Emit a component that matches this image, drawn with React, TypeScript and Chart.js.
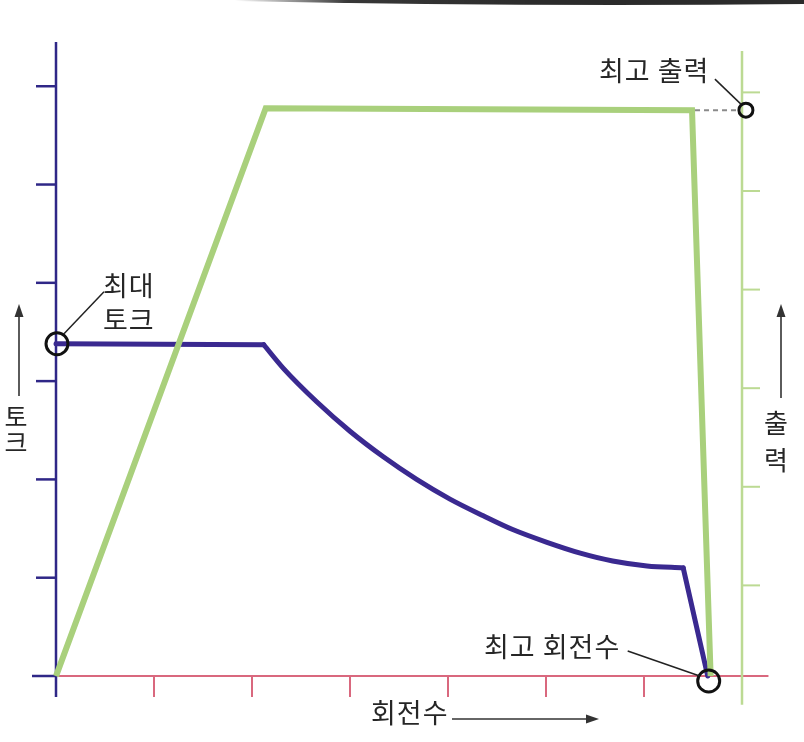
import React, { useEffect, useRef } from "react";
import { Chart, registerables } from "chart.js";

Chart.register(...registerables);

// axis tick values
const rpmTicks = [1, 2, 3, 4, 5, 6];
const torqueTicks = [0, 1, 2, 3, 4, 5, 6];
const powerTicks = [1, 2, 3, 4, 5, 6];

// power curve (출력)
const powerRpm = [0, 2.14, 6.49, 6.68];
const powerValues = [0.08, 5.84, 5.82, 0.08];

// torque curve (토크): flat part, falling curve, final drop
const torqueRpm = [0, 2.12, 2.32, 2.66, 3.0, 3.34, 3.68, 4.02, 4.36, 4.66, 5.01, 5.35, 5.68, 6.03, 6.4, 6.65];
const torqueValues = [3.38, 3.37, 3.13, 2.79, 2.49, 2.23, 2.0, 1.8, 1.63, 1.49, 1.36, 1.25, 1.17, 1.12, 1.1, 0];
const curveStart = 1; // index where the curve begins
const curveEnd = 14; // index where the steep drop begins

// texts
const maxTorqueLabel = ["최대", "토크"];
const maxPowerLabel = "최고 출력";
const maxRpmLabel = "최고 회전수";
const torqueAxisLabel = ["토", "크"];
const powerAxisLabel = ["출", "력"];
const rpmAxisLabel = "회전수";

const NAVY = "#2f2787";
const NAVY_LINE = "#3a2990";
const PINK = "#d9687e";
const GREEN = "#a9d07c";
const GREEN_AXIS = "#bcda93";
const TEXT = "#262626";
const FONT = '"Noto Sans CJK KR", "Noto Sans", sans-serif';

function arrow(ctx: CanvasRenderingContext2D, x1: number, y1: number, x2: number, y2: number) {
  const ang = Math.atan2(y2 - y1, x2 - x1);
  const hl = 13, hw = 4.5;
  ctx.save();
  ctx.strokeStyle = "#333";
  ctx.fillStyle = "#333";
  ctx.lineWidth = 1.6;
  ctx.beginPath();
  ctx.moveTo(x1, y1);
  ctx.lineTo(x2 - Math.cos(ang) * hl * 0.8, y2 - Math.sin(ang) * hl * 0.8);
  ctx.stroke();
  ctx.beginPath();
  ctx.moveTo(x2, y2);
  ctx.lineTo(x2 - Math.cos(ang) * hl - Math.sin(ang) * hw, y2 - Math.sin(ang) * hl + Math.cos(ang) * hw);
  ctx.lineTo(x2 - Math.cos(ang) * hl + Math.sin(ang) * hw, y2 - Math.sin(ang) * hl - Math.cos(ang) * hw);
  ctx.closePath();
  ctx.fill();
  ctx.restore();
}

function line(ctx: CanvasRenderingContext2D, x1: number, y1: number, x2: number, y2: number, color: string, w: number) {
  ctx.save();
  ctx.strokeStyle = color;
  ctx.lineWidth = w;
  ctx.beginPath();
  ctx.moveTo(x1, y1);
  ctx.lineTo(x2, y2);
  ctx.stroke();
  ctx.restore();
}

function circle(ctx: CanvasRenderingContext2D, x: number, y: number, r: number) {
  ctx.save();
  ctx.strokeStyle = "#111";
  ctx.lineWidth = 3;
  ctx.beginPath();
  ctx.arc(x, y, r, 0, Math.PI * 2);
  ctx.stroke();
  ctx.restore();
}

const axesPlugin = {
  id: "customAxes",
  beforeDatasetsDraw(chart: any) {
    const ctx: CanvasRenderingContext2D = chart.ctx;
    const xs = chart.scales.x, ys = chart.scales.y, y1 = chart.scales.y1;
    const x0 = xs.getPixelForValue(0);
    const yZero = ys.getPixelForValue(0);
    const xR = xs.getPixelForValue(7);

    // scan edge smudge at top
    ctx.save();
    const g = ctx.createLinearGradient(235, 0, 804, 0);
    g.addColorStop(0, "rgba(0,0,0,0)");
    g.addColorStop(0.2, "rgba(20,20,20,0.85)");
    g.addColorStop(0.55, "rgba(20,20,20,0.9)");
    g.addColorStop(1, "rgba(20,20,20,0.9)");
    ctx.fillStyle = g;
    ctx.beginPath();
    ctx.moveTo(235, 0);
    ctx.lineTo(804, 0);
    ctx.lineTo(804, 4);
    ctx.quadraticCurveTo(520, 7, 235, 1);
    ctx.closePath();
    ctx.fill();
    ctx.restore();

    // x axis
    line(ctx, x0, yZero, xs.getPixelForValue(7.27), yZero, PINK, 2);
    rpmTicks.forEach((v) => {
      const px = xs.getPixelForValue(v);
      line(ctx, px, yZero, px, yZero + 21, PINK, 2);
    });

    // right (power) axis
    line(ctx, xR, y1.getPixelForValue(6.42), xR, y1.getPixelForValue(-0.21), GREEN_AXIS, 2.5);
    powerTicks.forEach((v) => {
      const py = y1.getPixelForValue(v);
      line(ctx, xR, py, xR + 18, py, GREEN_AXIS, 2);
    });

    // left (torque) axis
    line(ctx, x0, ys.getPixelForValue(6.45), x0, yZero + 21, NAVY, 2.5);
    torqueTicks.forEach((v) => {
      const py = ys.getPixelForValue(v);
      line(ctx, x0 - (v === 0 ? 24 : 20), py, x0, py, NAVY, 2.5);
    });
  },
  afterDatasetsDraw(chart: any) {
    const ctx: CanvasRenderingContext2D = chart.ctx;
    const xs = chart.scales.x, ys = chart.scales.y, y1 = chart.scales.y1;
    const x0 = xs.getPixelForValue(0);

    // max torque
    const tx = x0 + 1;
    const ty = ys.getPixelForValue(torqueValues[0]);
    circle(ctx, tx, ty, 11);
    line(ctx, tx + 7, ty - 10, tx + 47, ty - 52, "#222", 1.5);

    // max power
    const cornerX = xs.getPixelForValue(powerRpm[2]);
    const cornerY = y1.getPixelForValue(powerValues[2]);
    const pcx = xs.getPixelForValue(7.04);
    ctx.save();
    ctx.strokeStyle = "#8a8a8a";
    ctx.lineWidth = 2;
    ctx.setLineDash([5, 4]);
    ctx.beginPath();
    ctx.moveTo(cornerX + 3, cornerY);
    ctx.lineTo(pcx - 7, cornerY);
    ctx.stroke();
    ctx.restore();
    circle(ctx, pcx, cornerY, 7);
    line(ctx, pcx - 31, cornerY - 31, pcx - 5, cornerY - 6, "#222", 1.5);

    // max rpm
    const rx = xs.getPixelForValue(torqueRpm[torqueRpm.length - 1]) + 1;
    const ry = ys.getPixelForValue(0) + 5;
    circle(ctx, rx, ry, 11);
    line(ctx, rx - 81, ry - 30, rx - 9, ry - 5, "#222", 1.5);

    // texts
    ctx.save();
    ctx.fillStyle = TEXT;
    ctx.textBaseline = "middle";
    (ctx as any).letterSpacing = "1px";
    ctx.font = `27px ${FONT}`;
    ctx.textAlign = "left";
    ctx.fillText(maxTorqueLabel[0], tx + 46, ty - 58);
    ctx.fillText(maxTorqueLabel[1], tx + 46, ty - 24);
    ctx.fillText(maxPowerLabel, 599, 71);
    ctx.fillText(maxRpmLabel, 484, 647);
    ctx.fillText(rpmAxisLabel, 371, 713);
    (ctx as any).letterSpacing = "0px";
    ctx.textAlign = "center";
    ctx.font = `25px ${FONT}`;
    ctx.fillText(torqueAxisLabel[0], 16, 416);
    ctx.fillText(torqueAxisLabel[1], 16, 442);
    ctx.font = `26px ${FONT}`;
    ctx.fillText(powerAxisLabel[0], 776, 423);
    ctx.fillText(powerAxisLabel[1], 776, 460);
    ctx.restore();

    arrow(ctx, 19, 396, 19, 304);
    arrow(ctx, 781, 398, 781, 304);
    arrow(ctx, 452, 719, 599, 719);
  },
};

function pts(from: number, to: number) {
  const out: { x: number; y: number }[] = [];
  for (let i = from; i <= to; i++) out.push({ x: torqueRpm[i], y: torqueValues[i] });
  return out;
}

export default function App() {
  const ref = useRef<HTMLCanvasElement | null>(null);

  useEffect(() => {
    document.body.style.margin = "0";
    document.body.style.background = "#fff";
    const canvas = ref.current;
    if (!canvas) return;
    const torqueStyle = {
      yAxisID: "y",
      borderColor: NAVY_LINE,
      borderWidth: 5,
      pointRadius: 0,
      borderJoinStyle: "round",
      borderCapStyle: "round",
      clip: false,
    };
    const chart = new Chart(canvas, {
      type: "line",
      data: {
        datasets: [
          {
            label: "출력",
            data: powerRpm.map((x, i) => ({ x, y: powerValues[i] })),
            yAxisID: "y1",
            borderColor: GREEN,
            borderWidth: 6,
            pointRadius: 0,
            tension: 0,
            borderJoinStyle: "miter",
            clip: false,
          } as any,
          { label: "토크", data: pts(0, curveStart), tension: 0, ...torqueStyle } as any,
          { label: "토크 곡선", data: pts(curveStart, curveEnd), cubicInterpolationMode: "monotone", ...torqueStyle } as any,
          { label: "토크 하강", data: pts(curveEnd, torqueRpm.length - 1), tension: 0, ...torqueStyle } as any,
        ],
      },
      options: {
        responsive: false,
        animation: false,
        events: [],
        layout: { padding: { left: 56, right: 62, top: 42, bottom: 66 } },
        plugins: { legend: { display: false }, tooltip: { enabled: false } },
        scales: {
          x: { type: "linear", min: 0, max: 7, display: false },
          y: { type: "linear", min: 0, max: 6.45, display: false },
          y1: { type: "linear", position: "right", min: 0.081, max: 6.511, display: false },
        },
      },
      plugins: [axesPlugin],
    });
    return () => chart.destroy();
  }, []);

  return (
    <div style={{ width: 804, height: 742, background: "#fff" }}>
      <canvas ref={ref} width={804} height={742} style={{ display: "block" }} />
    </div>
  );
}
